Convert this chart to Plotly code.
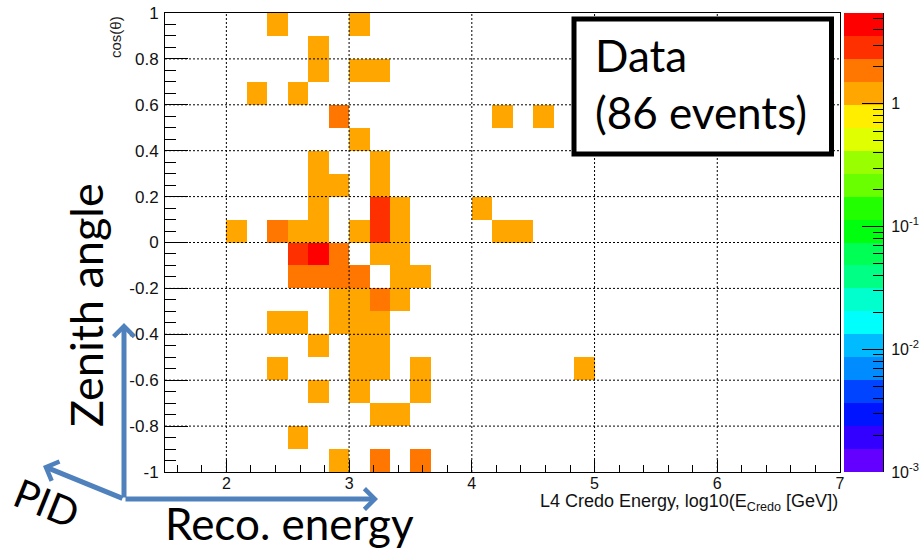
import colorsys
import math

import plotly.graph_objects as go

# ---------------------------------------------------------------------------
# Histogram binning: reconstructed energy (log10 E/GeV) vs cos(zenith)
# ---------------------------------------------------------------------------
E_MIN, E_MAX, E_NBINS = 1.5, 7.0, 33      # energy bins of 1/6 decade
C_MIN, C_MAX, C_NBINS = -1.0, 1.0, 20     # cos(theta) bins of 0.1

# Filled bins (row by row from cos(theta)=1 downwards)
energy_bin = [5, 9,
              7,
              7, 9, 10,
              4, 6,
              8, 16, 18,
              9,
              7, 10,
              7, 8, 10,
              7, 10, 11, 15,
              3, 5, 6, 7, 9, 10, 11, 16, 17,
              6, 7, 8, 10, 11,
              6, 7, 8, 9, 11, 12,
              8, 9, 10, 11,
              5, 6, 8, 9, 10,
              7, 9, 10,
              5, 9, 10, 12, 20,
              7, 9, 12,
              10, 11,
              6,
              8, 10, 12]
costh_bin = [19, 19,
             18,
             17, 17, 17,
             16, 16,
             15, 15, 15,
             14,
             13, 13,
             12, 12, 12,
             11, 11, 11, 11,
             10, 10, 10, 10, 10, 10, 10, 10, 10,
             9, 9, 9, 9, 9,
             8, 8, 8, 8, 8, 8,
             7, 7, 7, 7,
             6, 6, 6, 6, 6,
             5, 5, 5,
             4, 4, 4, 4, 4,
             3, 3, 3,
             2, 2,
             1,
             0, 0, 0]
n_events = [1, 1,
            1,
            1, 1, 1,
            1, 1,
            2, 1, 1,
            1,
            1, 1,
            1, 1, 1,
            1, 3, 1, 1,
            1, 2, 1, 1, 1, 3, 1, 1, 1,
            3, 4, 2, 1, 1,
            2, 2, 2, 2, 1, 1,
            1, 1, 2, 1,
            1, 1, 1, 1, 1,
            1, 1, 1,
            1, 1, 1, 1, 1,
            1, 1, 1,
            1, 1,
            1,
            1, 2, 2]

# Axis ticks
x_ticks = [2, 3, 4, 5, 6, 7]
y_ticks = [-1.0, -0.8, -0.6, -0.4, -0.2, 0.0, 0.2, 0.4, 0.6, 0.8, 1.0]
z_decades = [-3, -2, -1, 0]

# Log colour axis
Z_MIN, Z_MAX = 1e-3, 5.5
N_LEVELS = 20
ZL_MIN, ZL_MAX = math.log10(Z_MIN), math.log10(Z_MAX)


def rainbow_palette(n_levels=N_LEVELS, n_colors=50):
    """Classic 50-colour rainbow (violet -> red) sampled onto n_levels contours."""
    cols = []
    for k in range(n_levels):
        idx = int((k + 0.99) * n_colors / n_levels)
        hue = 280.0 - (idx + 1) * 280.0 / n_colors
        r, g, b = colorsys.hls_to_rgb(hue / 360.0, 0.5, 1.0)
        cols.append(f"rgb({round(r * 255)},{round(g * 255)},{round(b * 255)})")
    return cols


palette = rainbow_palette()
colorscale = []
for k, c in enumerate(palette):
    colorscale.append([k / N_LEVELS, c])
    colorscale.append([(k + 1) / N_LEVELS, c])

# Bin edges and the 2D content (log10 of the counts, empty bins left blank)
x_edges = [E_MIN + k * (E_MAX - E_MIN) / E_NBINS for k in range(E_NBINS + 1)]
y_edges = [C_MIN + k * (C_MAX - C_MIN) / C_NBINS for k in range(C_NBINS + 1)]
z = [[None] * E_NBINS for _ in range(C_NBINS)]
for i, j, n in zip(energy_bin, costh_bin, n_events):
    z[j][i] = math.log10(n)

# Palette strip for the colour axis
levels = [ZL_MIN + k * (ZL_MAX - ZL_MIN) / N_LEVELS for k in range(N_LEVELS + 1)]
bar_z = [[0.5 * (levels[k] + levels[k + 1])] for k in range(N_LEVELS)]
minor_z = [math.log10(m * 10.0 ** d) for d in z_decades for m in range(2, 10)
           if math.log10(m * 10.0 ** d) < ZL_MAX]

# ---------------------------------------------------------------------------
W, H = 922, 549
ML, MR, MT, MB = 165, 39, 13, 77
PW, PH = W - ML - MR, H - MT - MB


def px(x):
    return (x - ML) / PW


def py(y):
    return (H - MB - y) / PH


fig = go.Figure()
fig.add_trace(go.Heatmap(
    x=x_edges, y=y_edges, z=z,
    colorscale=colorscale, zmin=ZL_MIN, zmax=ZL_MAX,
    showscale=False, hoverinfo="skip",
))
fig.add_trace(go.Heatmap(
    x=[0, 1], y=levels, z=bar_z, xaxis="x2", yaxis="y2",
    colorscale=colorscale, zmin=ZL_MIN, zmax=ZL_MAX,
    showscale=False, hoverinfo="skip",
))

sans = "Liberation Sans, Arial, sans-serif"
tick_font = dict(family=sans, size=16, color="#111")
big_font = "Lato, Open Sans, sans-serif"

# Dotted grid drawn over the bins, then the label box
shapes = []
for v in x_ticks[:-1]:
    shapes.append(dict(type="line", xref="x", yref="y", x0=v, x1=v, y0=C_MIN, y1=C_MAX,
                       line=dict(color="black", width=1, dash="2px,2px"), layer="above"))
for v in y_ticks[1:-1]:
    shapes.append(dict(type="line", xref="x", yref="y", x0=E_MIN, x1=E_MAX, y0=v, y1=v,
                       line=dict(color="black", width=1, dash="2px,2px"), layer="above"))
shapes.append(dict(type="rect", xref="paper", yref="paper",
                   x0=px(574), x1=px(831.5), y0=py(154), y1=py(19),
                   line=dict(color="black", width=5), fillcolor="white", layer="above"))

arrow = dict(xref="paper", yref="paper", text="", showarrow=True, arrowhead=4,
             arrowsize=0.8, arrowwidth=5, arrowcolor="#4F81BD")
annotations = [
    dict(x=px(593), y=py(84), xref="paper", yref="paper", xanchor="left", yanchor="middle",
         align="left", showarrow=False, text="Data<br>(86 events)",
         font=dict(family=big_font, size=44, color="black")),
    dict(x=px(115), y=py(14), xref="paper", yref="paper", xanchor="center", yanchor="top",
         textangle=-90, showarrow=False, text="cos(θ)",
         font=dict(family=sans, size=15, color="#222")),
    dict(x=px(840), y=py(489), xref="paper", yref="paper", xanchor="right", yanchor="top",
         showarrow=False, text="L4 Credo Energy, log10(E<sub>Credo</sub> [GeV])",
         font=dict(family=sans, size=18, color="#111")),
    dict(x=px(86), y=py(305), xref="paper", yref="paper", xanchor="center", yanchor="middle",
         textangle=-90, showarrow=False,
         text="Zenith angle", font=dict(family=big_font, size=45, color="black")),
    dict(x=px(163), y=py(523), xref="paper", yref="paper", xanchor="left", yanchor="middle",
         showarrow=False, text="Reco. energy", font=dict(family=big_font, size=44, color="black")),
    dict(x=px(47), y=py(503), xref="paper", yref="paper", xanchor="center", yanchor="middle",
         textangle=22, showarrow=False,
         text="PID", font=dict(family=big_font, size=40, color="black")),
    dict(arrow, x=px(124), y=py(323), ax=0, ay=176),
    dict(arrow, x=px(378), y=py(499), ax=-254, ay=0),
    dict(arrow, x=px(43), y=py(466), ax=81, ay=33),
]

fig.update_layout(
    width=W, height=H,
    margin=dict(l=ML, r=MR, t=MT, b=MB, autoexpand=False),
    paper_bgcolor="white", plot_bgcolor="white",
    showlegend=False,
    xaxis=dict(
        domain=[0, px(840)], range=[E_MIN, E_MAX],
        showline=True, mirror=True, linecolor="black", linewidth=1,
        ticks="inside", ticklen=12, tickwidth=1, tickcolor="black",
        tickmode="array", tickvals=x_ticks, ticktext=[f"{v:g}" for v in x_ticks],
        minor=dict(dtick=0.2, tick0=0, ticks="inside", ticklen=7, tickcolor="black", showgrid=False),
        showgrid=False, zeroline=False, tickfont=tick_font, ticklabelstandoff=-3,
    ),
    yaxis=dict(
        range=[C_MIN, C_MAX],
        showline=True, mirror=True, linecolor="black", linewidth=1,
        ticks="inside", ticklen=23, tickwidth=1, tickcolor="black",
        tickmode="array", tickvals=y_ticks,
        ticktext=[f"{round(v, 1):g}" for v in y_ticks],
        minor=dict(dtick=0.05, tick0=0, ticks="inside", ticklen=11, tickcolor="black", showgrid=False),
        showgrid=False, zeroline=False, tickfont=dict(tick_font, size=17), ticklabelstandoff=2,
    ),
    xaxis2=dict(domain=[px(844), 1], range=[0, 1], visible=False, anchor="y2"),
    yaxis2=dict(
        anchor="x2", side="right", range=[ZL_MIN, ZL_MAX],
        showline=True, linecolor="black", linewidth=1,
        ticks="inside", ticklen=21, tickwidth=1, tickcolor="black",
        tickmode="array", tickvals=z_decades,
        ticktext=["10<sup>-3</sup>", "10<sup>-2</sup>", "10<sup>-1</sup>", "1"],
        minor=dict(tickmode="array", tickvals=minor_z, ticks="inside", ticklen=10,
                   tickcolor="black", showgrid=False),
        showgrid=False, zeroline=False,
        tickfont=dict(family=sans, size=16, color="#111"),
        ticklabelstandoff=4,
    ),
    shapes=shapes,
    annotations=annotations,
)

fig.write_html("out.html")
